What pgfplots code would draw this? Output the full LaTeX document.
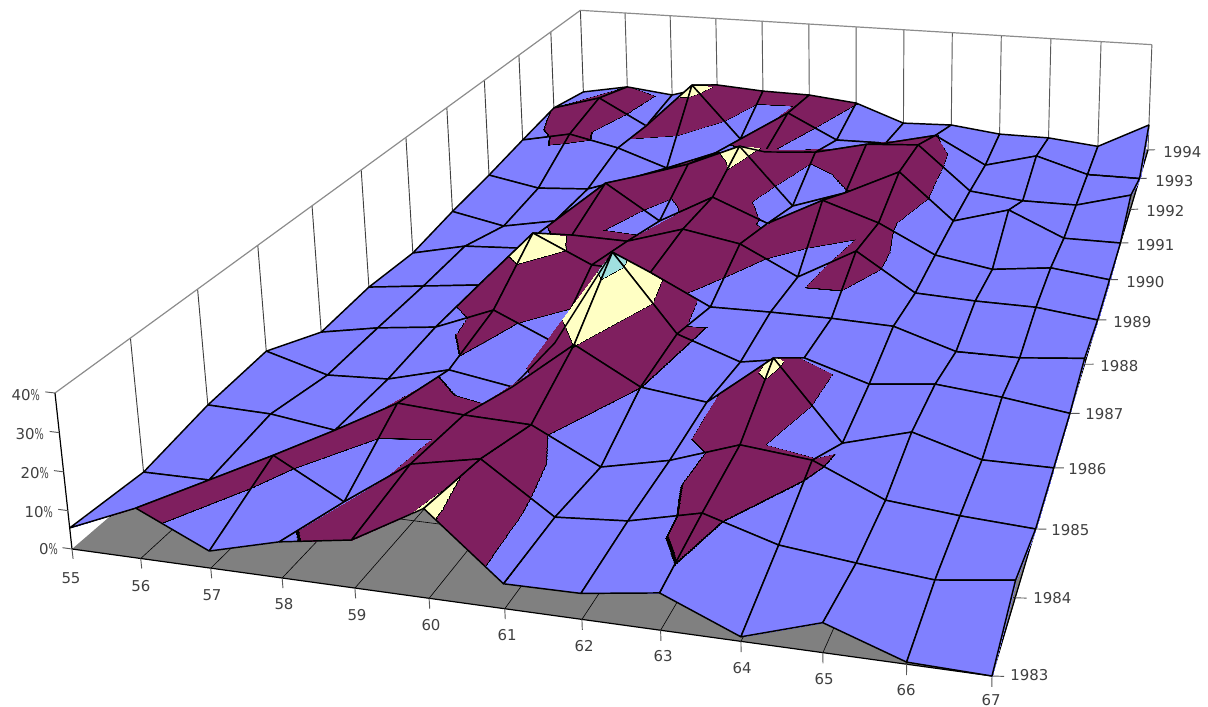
\documentclass[border=0pt]{standalone}
\usepackage{fontspec}
\setmainfont{DejaVu Sans}
\usepackage{pgfplots}
\usepackage{pgfplotstable}
\pgfplotsset{compat=1.18}
\newcommand\PU{((\thisrow{age}-55)/12)}
\newcommand\PV{((\thisrow{year}-1983)/11)}
\newcommand\PW{(\thisrow{pct}/40)}
\newcommand\PD{(1-0.11189*\PU+0.66216*\PV-0.021*\PW)}
\newcommand\PX{((809.01*\PU+898.70*\PV-18.16*\PW+72)/\PD)}
\newcommand\PY{((51.36*\PU-367.82*\PV-164.25*\PW+549)/\PD)}
\newcommand\seg[3]{\addplot[#1] table[x expr=\PX,y expr=\PY,row sep=\\]{age year pct\\#2\\#3\\};}
\newcommand\lab[3]{\node[font=\fontsize{11.2pt}{12pt}\selectfont,text=black!75,inner sep=0pt,#1] at (axis cs:#2) {#3};}
\newcommand\pc{\scalebox{0.65}[1]{\%}}
\pgfplotstableread{
age year pct
55 1983 5.5
56 1983 13.0
57 1983 4.4
58 1983 9.2
59 1983 12.1
60 1983 22.3
61 1983 6.2
62 1983 6.4
63 1983 9.1
64 1983 1.1
65 1983 7.2
66 1983 0.5
67 1983 0
55 1984 3.9
56 1984 4.0
57 1984 12.9
58 1984 2.7
59 1984 15.0
60 1984 18.6
61 1984 5.7
62 1984 7.1
63 1984 11.5
64 1984 5.75
65 1984 3.65
66 1984 1.9
67 1984 4.4
55 1985 7.3
56 1985 6.8
57 1985 4.3
58 1985 14.0
59 1985 12.8
60 1985 12.2
61 1985 2.75
62 1985 6.8
63 1985 13.2
64 1985 11.3
65 1985 2.9
66 1985 1.1
67 1985 0
55 1986 8.7
56 1986 3.5
57 1986 4.3
58 1986 9.0
59 1986 6.0
60 1986 20.2
61 1986 10.0
62 1986 7.7
63 1986 22.2
64 1986 0.3
65 1986 5.6
66 1986 0
67 1986 0
55 1987 0.8
56 1987 4.0
57 1987 6.1
58 1987 13.2
59 1987 5.0
60 1987 34.1
61 1987 11.5
62 1987 5.0
63 1987 8.2
64 1987 2.4
65 1987 4.4
66 1987 2.6
67 1987 0
55 1988 2.1
56 1988 4.2
57 1988 6.3
58 1988 24.6
59 1988 16.15
60 1988 15.5
61 1988 6.4
62 1988 6.6
63 1988 6.5
64 1988 5.9
65 1988 0
66 1988 0
67 1988 1.8
55 1989 1.0
56 1989 5.0
57 1989 6.0
58 1989 12.0
59 1989 11.6
60 1989 17.2
61 1989 14.0
62 1989 4.9
63 1989 15.0
64 1989 3.2
65 1989 2.4
66 1989 2.2
67 1989 0
55 1990 3.6
56 1990 0
57 1990 3.4
58 1990 18.1
59 1990 6.55
60 1990 16.3
61 1990 8.9
62 1990 18.3
63 1990 12.25
64 1990 3.1
65 1990 0
66 1990 2.2
67 1990 0
55 1991 5.5
56 1991 2.2
57 1991 3.4
58 1991 9.5
59 1991 15.3
60 1991 23.1
61 1991 3.35
62 1991 9.6
63 1991 18.4
64 1991 2.8
65 1991 8.2
66 1991 0
67 1991 0
55 1992 8.0
56 1992 11.6
57 1992 7.75
58 1992 1.6
59 1992 8.7
60 1992 10.5
61 1992 11.8
62 1992 16.1
63 1992 17.3
64 1992 2.0
65 1992 0
66 1992 0
67 1992 5.1
55 1993 10.3
56 1993 15.5
57 1993 5.9
58 1993 23.0
59 1993 3.5
60 1993 14.9
61 1993 5.9
62 1993 6.1
63 1993 10.4
64 1993 0.6
65 1993 5.5
66 1993 0
67 1993 0
55 1994 7.0
56 1994 10.3
57 1994 8.3
58 1994 13.6
59 1994 12.4
60 1994 12.1
61 1994 10.2
62 1994 3.6
63 1994 4.2
64 1994 2.0
65 1994 1.9
66 1994 0
67 1994 9.6
}\surface
\begin{document}
\begin{tikzpicture}
\begin{axis}[
  scale only axis, width=906pt, height=530.25pt,
  xmin=0, xmax=1208, ymin=0, ymax=707, y dir=reverse,
  hide axis, clip=false,
  point meta min=0, point meta max=40,
  colormap={bands}{rgb255(0pt)=(128,128,255) rgb255(496pt)=(128,128,255) rgb255(497pt)=(0,0,0) rgb255(503pt)=(0,0,0) rgb255(504pt)=(127,31,95) rgb255(996pt)=(127,31,95) rgb255(997pt)=(0,0,0) rgb255(1003pt)=(0,0,0) rgb255(1004pt)=(255,255,196) rgb255(1496pt)=(255,255,196) rgb255(1497pt)=(0,0,0) rgb255(1503pt)=(0,0,0) rgb255(1504pt)=(160,224,224) rgb255(2000pt)=(160,224,224)},
]
% floor
\addplot[fill=black!50,draw=none] table[x expr=\PX,y expr=\PY,row sep=\\]{age year pct\\55 1983 0\\67 1983 0\\67 1994 0\\55 1994 0\\55 1983 0\\};
\pgfplotsinvokeforeach{56,...,67}{\seg{black,line width=0.45pt}{#1 1983 0}{#1 1994 0}}
\pgfplotsinvokeforeach{1984,...,1994}{\seg{black,line width=0.45pt}{55 #1 0}{67 #1 0}}
% walls
\pgfplotsinvokeforeach{1984,...,1994}{\seg{black!75,line width=0.7pt}{55 #1 0}{55 #1 40}}
\pgfplotsinvokeforeach{56,...,67}{\seg{black!65,line width=0.7pt}{#1 1994 0}{#1 1994 40}}
\seg{black!45,line width=0.9pt}{55 1983 40}{55 1994 40}
\seg{black!45,line width=0.9pt}{55 1994 40}{67 1994 40}
\seg{black,line width=0.9pt}{55 1983 0}{55 1983 40}
\seg{black,line width=0.9pt}{55 1983 0}{67 1983 0}
\seg{black,line width=0.9pt}{67 1983 0}{67 1994 0}
% ticks
\pgfplotsinvokeforeach{55,...,67}{\seg{black!65,line width=0.7pt}{#1 1983 0}{#1 1983 -2.6}}
\pgfplotsinvokeforeach{1983,...,1994}{\seg{black!65,line width=0.7pt}{67 #1 0}{67.14 #1 0.3}}
\pgfplotsinvokeforeach{0,10,20,30,40}{\seg{black!65,line width=0.7pt}{55 1983 #1}{54.86 1983 #1}}
% surface
\addplot[patch, patch type=rectangle, shader=faceted interp, faceted color=black, line width=1.1pt,
 point meta=explicit,
 table/row sep=\\,
 patch table={
143 130 131 144\\144 131 132 145\\145 132 133 146\\146 133 134 147\\147 134 135 148\\148 135 136 149\\149 136 137 150\\150 137 138 151\\151 138 139 152\\152 139 140 153\\153 140 141 154\\154 141 142 155\\
130 117 118 131\\131 118 119 132\\132 119 120 133\\133 120 121 134\\134 121 122 135\\135 122 123 136\\136 123 124 137\\137 124 125 138\\138 125 126 139\\139 126 127 140\\140 127 128 141\\141 128 129 142\\
117 104 105 118\\118 105 106 119\\119 106 107 120\\120 107 108 121\\121 108 109 122\\122 109 110 123\\123 110 111 124\\124 111 112 125\\125 112 113 126\\126 113 114 127\\127 114 115 128\\128 115 116 129\\
104 91 92 105\\105 92 93 106\\106 93 94 107\\107 94 95 108\\108 95 96 109\\109 96 97 110\\110 97 98 111\\111 98 99 112\\112 99 100 113\\113 100 101 114\\114 101 102 115\\115 102 103 116\\
91 78 79 92\\92 79 80 93\\93 80 81 94\\94 81 82 95\\95 82 83 96\\96 83 84 97\\97 84 85 98\\98 85 86 99\\99 86 87 100\\100 87 88 101\\101 88 89 102\\102 89 90 103\\
78 65 66 79\\79 66 67 80\\80 67 68 81\\81 68 69 82\\82 69 70 83\\83 70 71 84\\84 71 72 85\\85 72 73 86\\86 73 74 87\\87 74 75 88\\88 75 76 89\\89 76 77 90\\
65 52 53 66\\66 53 54 67\\67 54 55 68\\68 55 56 69\\69 56 57 70\\70 57 58 71\\71 58 59 72\\72 59 60 73\\73 60 61 74\\74 61 62 75\\75 62 63 76\\76 63 64 77\\
52 39 40 53\\53 40 41 54\\54 41 42 55\\55 42 43 56\\56 43 44 57\\57 44 45 58\\58 45 46 59\\59 46 47 60\\60 47 48 61\\61 48 49 62\\62 49 50 63\\63 50 51 64\\
39 26 27 40\\40 27 28 41\\41 28 29 42\\42 29 30 43\\43 30 31 44\\44 31 32 45\\45 32 33 46\\46 33 34 47\\47 34 35 48\\48 35 36 49\\49 36 37 50\\50 37 38 51\\
26 13 14 27\\27 14 15 28\\28 15 16 29\\29 16 17 30\\30 17 18 31\\31 18 19 32\\32 19 20 33\\33 20 21 34\\34 21 22 35\\35 22 23 36\\36 23 24 37\\37 24 25 38\\
13 0 1 14\\14 1 2 15\\15 2 3 16\\16 3 4 17\\17 4 5 18\\18 5 6 19\\19 6 7 20\\20 7 8 21\\21 8 9 22\\22 9 10 23\\23 10 11 24\\24 11 12 25\\
}]
table[x expr=\PX, y expr=\PY, meta=pct] {\surface};
% labels
\lab{}{71,578}{55}\lab{}{141,586}{56}\lab{}{212,595}{57}\lab{}{284,604}{58}\lab{}{357,615}{59}\lab{}{431,625}{60}\lab{}{507,635}{61}\lab{}{584,646}{62}\lab{}{663,656}{63}\lab{}{742,668}{64}\lab{}{824,679}{65}\lab{}{906,690}{66}\lab{}{991,700}{67}
\lab{anchor=west}{1010,675}{1983}\lab{anchor=west}{1033,598}{1984}\lab{anchor=west}{1051,530}{1985}\lab{anchor=west}{1068,469}{1986}\lab{anchor=west}{1085,414}{1987}\lab{anchor=west}{1100,366}{1988}\lab{anchor=west}{1113,322}{1989}\lab{anchor=west}{1126,282}{1990}\lab{anchor=west}{1136,245}{1991}\lab{anchor=west}{1146,211}{1992}\lab{anchor=west}{1155,181}{1993}\lab{anchor=west}{1163,152}{1994}
\lab{anchor=east}{58,549}{0\pc}\lab{anchor=east}{53,512}{10\pc}\lab{anchor=east}{49,473}{20\pc}\lab{anchor=east}{44,434}{30\pc}\lab{anchor=east}{40,395}{40\pc}
\end{axis}
\pgfresetboundingbox
\path (0,0) rectangle (906pt,530.25pt);
\end{tikzpicture}
\end{document}
